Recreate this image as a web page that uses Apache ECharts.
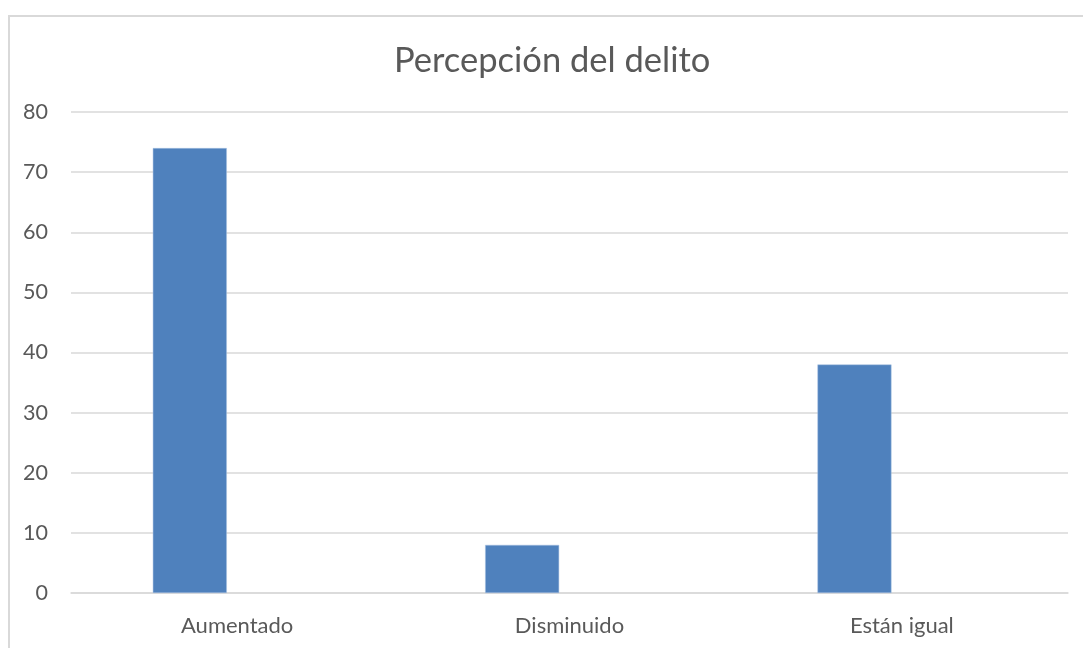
<!DOCTYPE html>
<html>
<head>
<meta charset="utf-8">
<script src="https://cdn.jsdelivr.net/npm/echarts@6/dist/echarts.min.js"></script>
<style>html,body{margin:0;padding:0;background:#fff}#c{width:1083px;height:648px}</style>
</head>
<body>
<div id="c"></div>
<script>
const titleText = 'Percepción del delito';
const categories = ['Aumentado', 'Disminuido', 'Están igual'];
const seriesValues = [74, 8, 38];
const emptySeriesValues = [null, null, null];
const yMin = 0, yMax = 80, yInterval = 10;

const chart = echarts.init(document.getElementById('c'));
const FONT = 'Lato';
chart.setOption({
  backgroundColor: '#ffffff',
  animation: false,
  graphic: [{
    type: 'rect', left: 6.5, top: 13.5,
    shape: { width: 1200, height: 800 },
    style: { fill: 'none', stroke: '#d9d9d9', lineWidth: 2 },
    silent: true
  }],
  title: {
    text: titleText, left: 389, top: 38,
    textStyle: { fontFamily: FONT, fontSize: 34.5, fontWeight: 'normal', color: '#595959' }
  },
  grid: { left: 71, right: 15, top: 112, bottom: 55, containLabel: false },
  xAxis: {
    type: 'category', data: categories,
    axisLine: { show: true, lineStyle: { color: '#d9d9d9', width: 1.5 } },
    axisTick: { show: false },
    axisLabel: { fontFamily: FONT, fontSize: 22, color: '#595959', margin: 22 }
  },
  yAxis: {
    type: 'value', min: yMin, max: yMax, interval: yInterval,
    axisLine: { show: false }, axisTick: { show: false },
    splitLine: { lineStyle: { color: '#d9d9d9', width: 1.5 } },
    axisLabel: { fontFamily: FONT, fontSize: 21.5, color: '#595959', margin: 23 }
  },
  series: [
    { type: 'bar', data: seriesValues, barWidth: 74, barGap: '28%',
      itemStyle: { color: '#4f81bd', borderColor: '#a9c3e3', borderWidth: 0.5 } },
    { type: 'bar', data: emptySeriesValues, barWidth: 74, itemStyle: { color: '#c0504d' } }
  ]
});
</script>
</body>
</html>
